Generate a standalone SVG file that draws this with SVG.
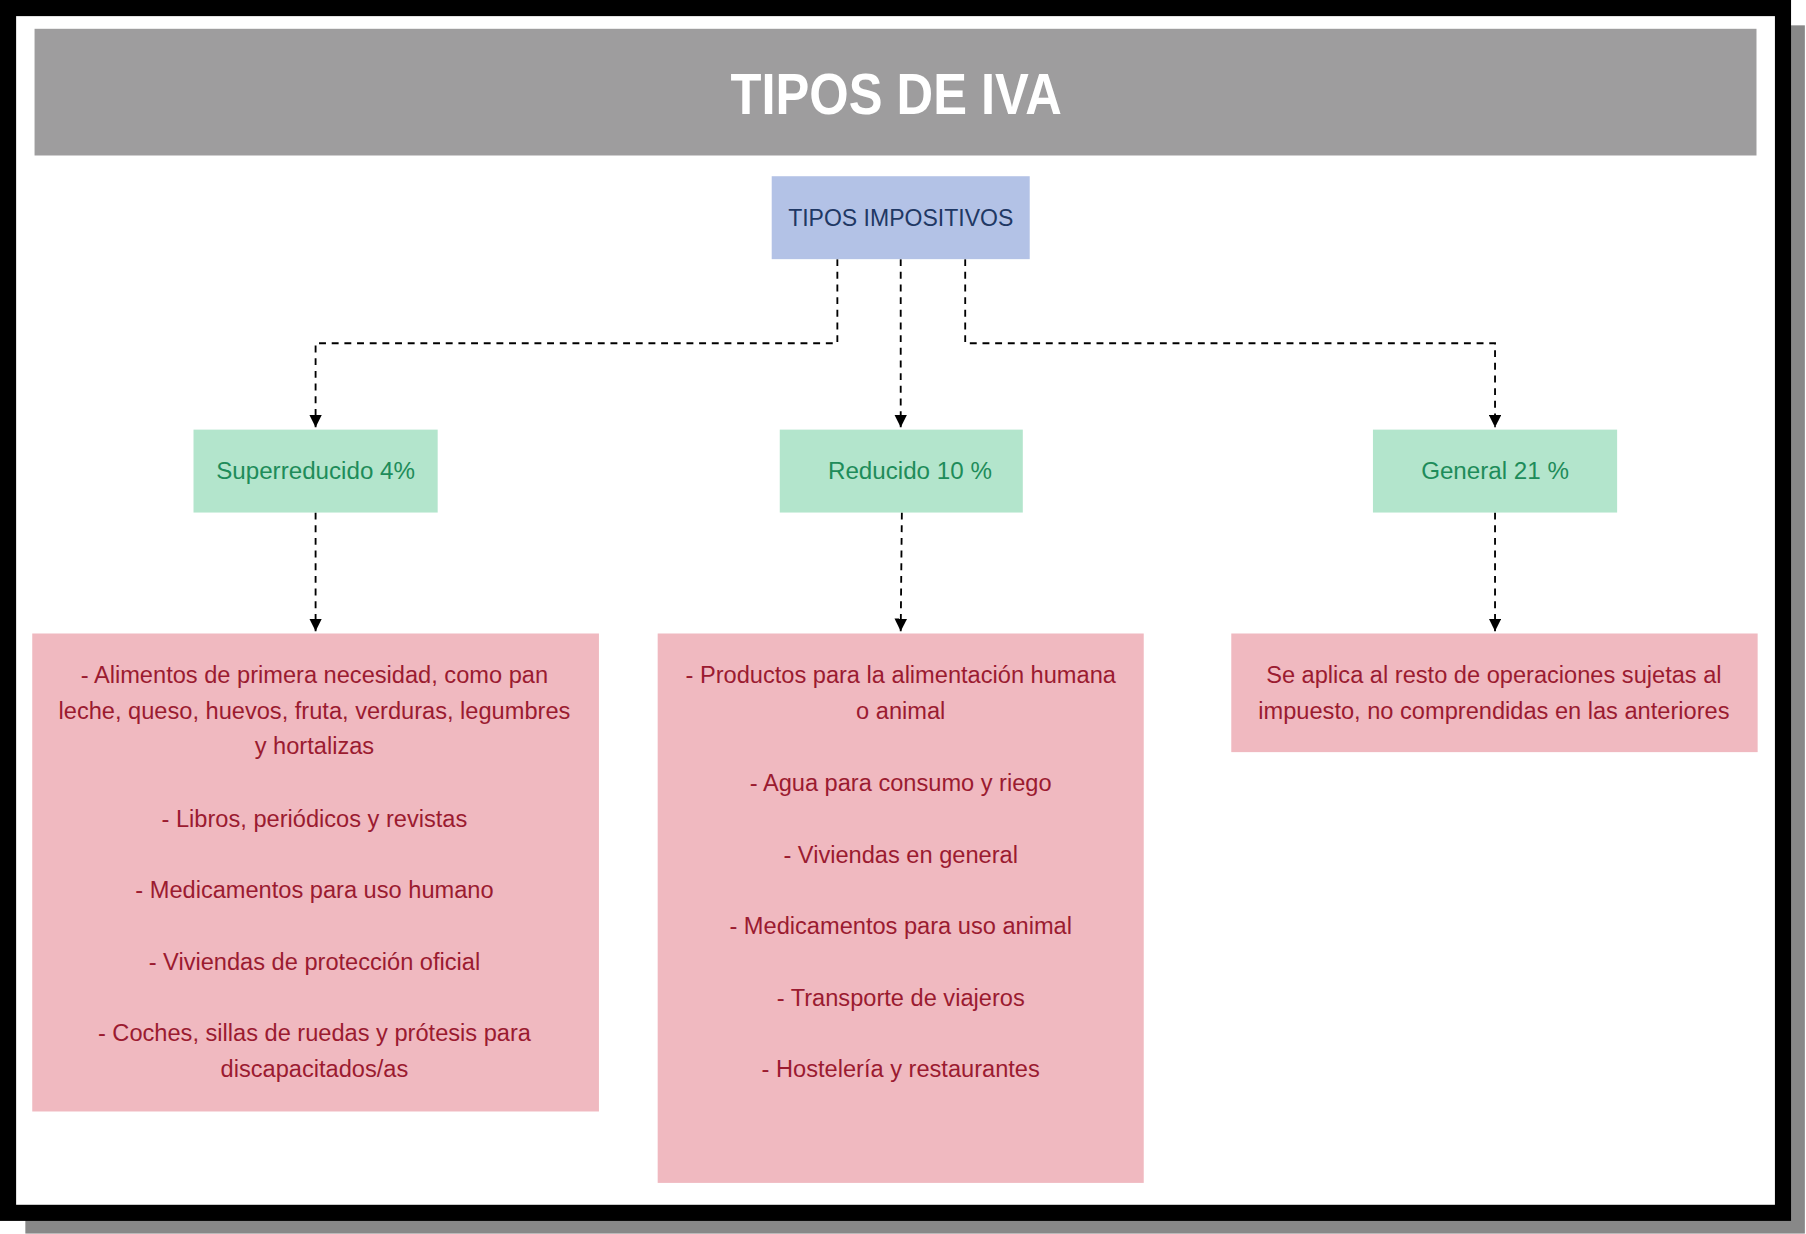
<svg xmlns="http://www.w3.org/2000/svg" width="1806" height="1234" viewBox="0 0 1806 1234">
<defs>
<style>
text{font-family:"Liberation Sans",Arial,sans-serif;text-anchor:middle}
.b{font-size:20.5px;fill:#9b1b30}
.g{font-size:21px;fill:#1e8c5a}
.e{stroke:#000;stroke-width:1.6;fill:none;stroke-dasharray:6,5}
</style>
<marker id="a" viewBox="0 0 10 10" refX="10" refY="5" markerWidth="11" markerHeight="11" markerUnits="userSpaceOnUse" orient="auto"><path d="M0,0L10,5L0,10z" fill="#000"/></marker>
</defs>
<rect width="1806" height="1234" fill="#fff"/>
<g transform="scale(1.1518)">
<rect x="22" y="22" width="1545" height="1049" fill="#888"/>
<rect x="0" y="0" width="1555" height="1060" fill="#000"/>
<rect x="14" y="14" width="1527" height="1032" fill="#fff"/>
<g id="title"><rect x="30" y="25" width="1495" height="110" fill="#9e9d9e"/>
<text x="778" y="99" style="font-size:50px;font-weight:bold;fill:#fff" transform="translate(778,0) scale(0.88,1) translate(-778,0)">TIPOS DE IVA</text></g>
<g id="connectors">
<path class="e" d="M727,225V298H274V371" marker-end="url(#a)"/>
<path class="e" d="M782,225V371" marker-end="url(#a)"/>
<path class="e" d="M838,225V298H1298V371" marker-end="url(#a)"/>
<path class="e" d="M274,445V548" marker-end="url(#a)"/>
<path class="e" d="M783,445L782,548" marker-end="url(#a)"/>
<path class="e" d="M1298,445V548" marker-end="url(#a)"/>
</g>
<g id="root"><rect x="670" y="153" width="224" height="72" fill="#b3c2e6"/><text x="782" y="196" style="font-size:20px;fill:#1f3864">TIPOS IMPOSITIVOS</text></g>
<g id="super"><rect x="168" y="373" width="212" height="72" fill="#b3e5cc"/><text class="g" x="274" y="416">Superreducido 4%</text></g>
<g id="reducido"><rect x="677" y="373" width="211" height="72" fill="#b3e5cc"/><text class="g" x="790" y="416">Reducido 10 %</text></g>
<g id="general"><rect x="1192" y="373" width="212" height="72" fill="#b3e5cc"/><text class="g" x="1298" y="416">General 21 %</text></g>
<g id="listSuper"><rect x="28" y="550" width="492" height="415" fill="#f0b9c0"/>
<text class="b" x="273" y="593">- Alimentos de primera necesidad, como pan</text>
<text class="b" x="273" y="624">leche, queso, huevos, fruta, verduras, legumbres</text>
<text class="b" x="273" y="655">y hortalizas</text>
<text class="b" x="273" y="718">- Libros, periódicos y revistas</text>
<text class="b" x="273" y="780">- Medicamentos para uso humano</text>
<text class="b" x="273" y="842">- Viviendas de protección oficial</text>
<text class="b" x="273" y="904">- Coches, sillas de ruedas y prótesis para</text>
<text class="b" x="273" y="935">discapacitados/as</text></g>
<g id="listReducido"><rect x="571" y="550" width="422" height="477" fill="#f0b9c0"/>
<text class="b" x="782" y="593">- Productos para la alimentación humana</text>
<text class="b" x="782" y="624">o animal</text>
<text class="b" x="782" y="687">- Agua para consumo y riego</text>
<text class="b" x="782" y="749">- Viviendas en general</text>
<text class="b" x="782" y="811">- Medicamentos para uso animal</text>
<text class="b" x="782" y="873">- Transporte de viajeros</text>
<text class="b" x="782" y="935">- Hostelería y restaurantes</text></g>
<g id="listGeneral"><rect x="1069" y="550" width="457" height="103" fill="#f0b9c0"/>
<text class="b" x="1297" y="593">Se aplica al resto de operaciones sujetas al</text>
<text class="b" x="1297" y="624">impuesto, no comprendidas en las anteriores</text></g>
</g>
</svg>
